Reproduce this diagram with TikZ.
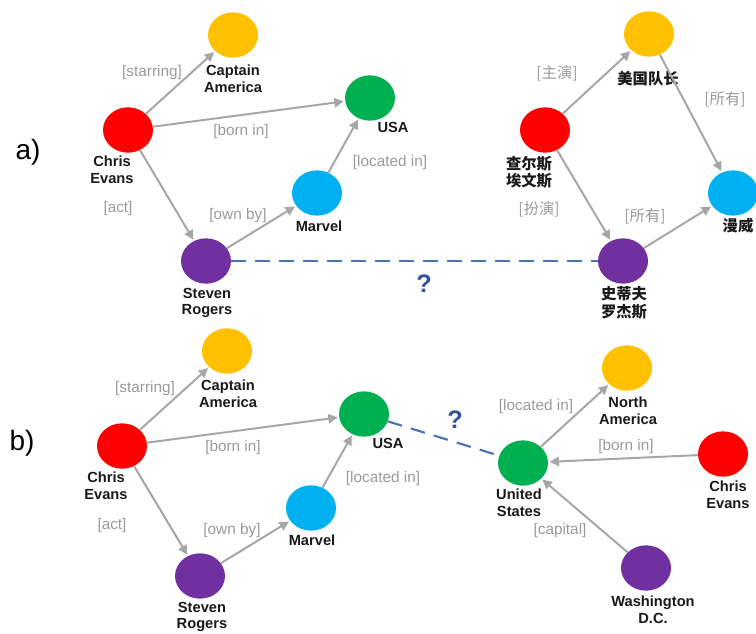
\documentclass[tikz,border=0pt]{standalone}
\usepackage{fontspec}
\setmainfont{Liberation Sans}
\newfontfamily\cjk{Noto Sans CJK SC}
\usetikzlibrary{shapes.geometric,arrows.meta}
\definecolor{cred}{HTML}{FF0000}
\definecolor{cyel}{HTML}{FFC000}
\definecolor{cgrn}{HTML}{00B050}
\definecolor{cblu}{HTML}{00B0F0}
\definecolor{cpur}{HTML}{7030A0}
\definecolor{arrgray}{HTML}{A6A6A6}
\definecolor{relgray}{HTML}{9A9A9A}
\definecolor{qblue}{HTML}{4A72B8}
\definecolor{qdark}{HTML}{2F5597}
\definecolor{txt}{HTML}{1A1A1A}
\begin{document}
\begin{tikzpicture}[x=0.75pt,y=-0.75pt,
  ent/.style={ellipse, minimum width=37.5pt, minimum height=34pt, inner sep=0pt, draw=none},
  lbl/.style={font=\fontsize{11}{12.5}\selectfont\bfseries, align=center, text=txt, inner sep=0pt},
  clbl/.style={font=\cjk\fontsize{11.5}{13}\selectfont\bfseries, align=center, text=txt, inner sep=0pt},
  rel/.style={font=\fontsize{11.5}{13}\selectfont, text=relgray, inner sep=0pt},
  crel/.style={font=\cjk\fontsize{11.5}{13}\selectfont, text=relgray, inner sep=0pt},
  rarr/.style={draw=arrgray, line width=1.5pt, -{Triangle[length=7pt,width=7pt]}, shorten >=1pt, shorten <=0pt},
  qline/.style={draw=qblue, line width=1.6pt, dash pattern=on 11pt off 7pt},
  qmark/.style={font=\fontsize{19}{20}\selectfont\bfseries, text=qdark, inner sep=0pt},
  panel/.style={font=\fontsize{21}{22}\selectfont, text=black, inner sep=0pt}
]
\useasboundingbox (0,0) rectangle (756,634);

% ---------- panel a) ----------
\node[panel] (pa) at (28,152) {a)};
\node[ent, fill=cyel] (caA) at (233,35) {};
\node[ent, fill=cred] (ceA) at (128,130) {};
\node[ent, fill=cgrn] (usaA) at (370,98) {};
\node[ent, fill=cblu] (mvA) at (317,193) {};
\node[ent, fill=cpur] (srA) at (206,261) {};
\node[lbl] (caAl) at (233,79) {Captain\\America};
\node[lbl] (ceAl) at (112,170) {Chris\\Evans};
\node[lbl] (usaAl) at (393,127) {USA};
\node[lbl] (mvAl) at (319,226) {Marvel};
\node[lbl] (srAl) at (207,303) {Steven\\Rogers};

\draw[rarr] (ceA) -- (caA);
\draw[rarr] (ceA) -- (usaA);
\draw[rarr] (ceA) -- (srA);
\draw[rarr] (srA) -- (mvA);
\draw[rarr] (mvA) -- (usaA);
\node[rel] (r1) at (152,73) {[starring]};
\node[rel] (r2) at (241,132) {[born in]};
\node[rel] (r3) at (118,209) {[act]};
\node[rel] (r4) at (238,216) {[own by]};
\node[rel] (r5) at (390,163) {[located in]};

\node[ent, fill=cyel] (mgA) at (649,34) {};
\node[ent, fill=cred] (zeA) at (545,130) {};
\node[ent, fill=cblu] (mwA) at (733,193) {};
\node[ent, fill=cpur] (sdA) at (623,261) {};
\node[clbl] (mgAl) at (648,79) {美国队长};
\node[clbl] (zeAl) at (529,172) {查尔斯\\埃文斯};
\node[clbl] (mwAl) at (738,226) {漫威};
\node[clbl] (sdAl) at (624,303) {史蒂夫\\罗杰斯};

\draw[rarr] (zeA) -- (mgA);
\draw[rarr] (mgA) -- (mwA);
\draw[rarr] (zeA) -- (sdA);
\draw[rarr] (sdA) -- (mwA);
\node[crel] (c1) at (557,73) {[主演]};
\node[crel] (c2) at (725,99) {[所有]};
\node[crel] (c3) at (539,209) {[扮演]};
\node[crel] (c4) at (645,216) {[所有]};

\draw[qline] (srA) -- (sdA);
\node[qmark] (qa) at (424,284) {?};

% ---------- panel b) ----------
\node[panel] (pb) at (22,443) {b)};
\node[ent, fill=cyel] (caB) at (227,351) {};
\node[ent, fill=cred] (ceB) at (122,446) {};
\node[ent, fill=cgrn] (usaB) at (364,414) {};
\node[ent, fill=cblu] (mvB) at (311,508) {};
\node[ent, fill=cpur] (srB) at (200,576) {};
\node[lbl] (caBl) at (228,394) {Captain\\America};
\node[lbl] (ceBl) at (106,486) {Chris\\Evans};
\node[lbl] (usaBl) at (388,443) {USA};
\node[lbl] (mvBl) at (312,540) {Marvel};
\node[lbl] (srBl) at (202,617) {Steven\\Rogers};

\draw[rarr] (ceB) -- (caB);
\draw[rarr] (ceB) -- (usaB);
\draw[rarr] (ceB) -- (srB);
\draw[rarr] (srB) -- (mvB);
\draw[rarr] (mvB) -- (usaB);
\node[rel] (s1) at (145,389) {[starring]};
\node[rel] (s2) at (233,448) {[born in]};
\node[rel] (s3) at (112,526) {[act]};
\node[rel] (s4) at (232,531) {[own by]};
\node[rel] (s5) at (383,479) {[located in]};

\node[ent, fill=cgrn] (usB) at (523,463) {};
\node[ent, fill=cyel] (naB) at (627,368) {};
\node[ent, fill=cred] (ce2B) at (723,454) {};
\node[ent, fill=cpur] (wdB) at (646,568) {};
\node[lbl] (usBl) at (519,503) {United\\States};
\node[lbl] (naBl) at (628,411) {North\\America};
\node[lbl] (ce2Bl) at (728,495) {Chris\\Evans};
\node[lbl] (wdBl) at (653,610) {Washington\\D.C.};

\draw[rarr] (usB) -- (naB);
\draw[rarr] (ce2B) -- (usB);
\draw[rarr] (wdB) -- (usB);
\node[rel] (t1) at (536,407) {[located in]};
\node[rel] (t2) at (626,447) {[born in]};
\node[rel] (t3) at (560,531) {[capital]};

\draw[qline] (usaB) -- (usB);
\node[qmark] (qb) at (455,420) {?};
\end{tikzpicture}
\end{document}
